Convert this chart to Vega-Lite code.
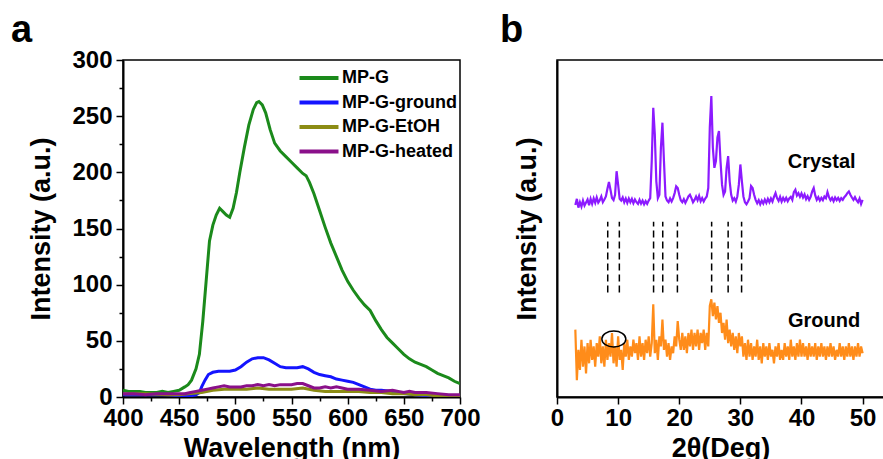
{
"$schema": "https://vega.github.io/schema/vega-lite/v6.json",
"padding": {"left": 10, "top": 10, "right": 0, "bottom": 0},
"background": "white",
"spacing": 18,
"resolve": {"scale": {"color": "independent"}, "legend": {"color": "independent"}},
"config": {
  "font": "Liberation Sans",
  "view": {"stroke": "black", "strokeWidth": 1.5},
  "axis": {"grid": false, "domainColor": "black", "domainWidth": 2, "tickColor": "black", "tickWidth": 1.5,
    "labelFont": "Liberation Sans", "labelFontWeight": "bold", "labelFontSize": 24, "labelColor": "black",
    "titleFont": "Liberation Sans", "titleFontWeight": "bold", "titleFontSize": 27, "titleColor": "black",
    "labelOverlap": false, "labelFlush": false},
  "title": {"font": "Liberation Sans", "fontWeight": "bold", "fontSize": 38, "color": "black", "anchor": "start", "frame": "group", "baseline": "alphabetic"}
},
"hconcat": [
{
  "width": 337, "height": 337,
  "title": {"text": "a", "dx": -112, "offset": -1.5},
  "data": {"values": [
{"s":"MP-G","w":400,"i":6},{"s":"MP-G","w":405,"i":5},{"s":"MP-G","w":410,"i":5},{"s":"MP-G","w":415,"i":5},{"s":"MP-G","w":420,"i":4},{"s":"MP-G","w":425,"i":4},{"s":"MP-G","w":430,"i":4},{"s":"MP-G","w":435,"i":5},{"s":"MP-G","w":440,"i":4},{"s":"MP-G","w":445,"i":5},{"s":"MP-G","w":450,"i":6},{"s":"MP-G","w":455,"i":9},{"s":"MP-G","w":458,"i":11},{"s":"MP-G","w":461,"i":15},{"s":"MP-G","w":465,"i":25},{"s":"MP-G","w":468,"i":38},{"s":"MP-G","w":471,"i":67},{"s":"MP-G","w":474,"i":103},{"s":"MP-G","w":477,"i":139},{"s":"MP-G","w":480,"i":153},{"s":"MP-G","w":483,"i":162},{"s":"MP-G","w":486,"i":168},{"s":"MP-G","w":489,"i":165},{"s":"MP-G","w":492,"i":162},{"s":"MP-G","w":495,"i":160},{"s":"MP-G","w":498,"i":168},{"s":"MP-G","w":501,"i":182},{"s":"MP-G","w":504,"i":200},{"s":"MP-G","w":508,"i":222},{"s":"MP-G","w":512,"i":242},{"s":"MP-G","w":516,"i":256},{"s":"MP-G","w":519,"i":262},{"s":"MP-G","w":521,"i":263},{"s":"MP-G","w":524,"i":260},{"s":"MP-G","w":527,"i":253},{"s":"MP-G","w":531,"i":238},{"s":"MP-G","w":535,"i":226},{"s":"MP-G","w":540,"i":219},{"s":"MP-G","w":545,"i":214},{"s":"MP-G","w":550,"i":209},{"s":"MP-G","w":555,"i":204},{"s":"MP-G","w":560,"i":199},{"s":"MP-G","w":563,"i":197},{"s":"MP-G","w":566,"i":191},{"s":"MP-G","w":570,"i":181},{"s":"MP-G","w":575,"i":166},{"s":"MP-G","w":580,"i":151},{"s":"MP-G","w":585,"i":137},{"s":"MP-G","w":590,"i":125},{"s":"MP-G","w":595,"i":113},{"s":"MP-G","w":600,"i":103},{"s":"MP-G","w":605,"i":95},{"s":"MP-G","w":610,"i":88},{"s":"MP-G","w":615,"i":82},{"s":"MP-G","w":620,"i":77},{"s":"MP-G","w":625,"i":68},{"s":"MP-G","w":630,"i":60},{"s":"MP-G","w":635,"i":53},{"s":"MP-G","w":640,"i":48},{"s":"MP-G","w":645,"i":43},{"s":"MP-G","w":650,"i":38},{"s":"MP-G","w":655,"i":34},{"s":"MP-G","w":660,"i":31},{"s":"MP-G","w":665,"i":29},{"s":"MP-G","w":670,"i":27},{"s":"MP-G","w":675,"i":24},{"s":"MP-G","w":680,"i":21},{"s":"MP-G","w":685,"i":19},{"s":"MP-G","w":690,"i":17},{"s":"MP-G","w":695,"i":14},{"s":"MP-G","w":700,"i":12},
{"s":"MP-G-ground","w":400,"i":2},{"s":"MP-G-ground","w":420,"i":2},{"s":"MP-G-ground","w":440,"i":2},{"s":"MP-G-ground","w":450,"i":1},{"s":"MP-G-ground","w":460,"i":1},{"s":"MP-G-ground","w":465,"i":2},{"s":"MP-G-ground","w":468,"i":4},{"s":"MP-G-ground","w":470,"i":9},{"s":"MP-G-ground","w":473,"i":15},{"s":"MP-G-ground","w":476,"i":20},{"s":"MP-G-ground","w":480,"i":22},{"s":"MP-G-ground","w":485,"i":23},{"s":"MP-G-ground","w":490,"i":23},{"s":"MP-G-ground","w":495,"i":23},{"s":"MP-G-ground","w":500,"i":24},{"s":"MP-G-ground","w":505,"i":27},{"s":"MP-G-ground","w":510,"i":31},{"s":"MP-G-ground","w":515,"i":34},{"s":"MP-G-ground","w":520,"i":35},{"s":"MP-G-ground","w":525,"i":35},{"s":"MP-G-ground","w":530,"i":33},{"s":"MP-G-ground","w":535,"i":30},{"s":"MP-G-ground","w":540,"i":27},{"s":"MP-G-ground","w":545,"i":26},{"s":"MP-G-ground","w":550,"i":26},{"s":"MP-G-ground","w":555,"i":26},{"s":"MP-G-ground","w":560,"i":27},{"s":"MP-G-ground","w":565,"i":25},{"s":"MP-G-ground","w":570,"i":22},{"s":"MP-G-ground","w":575,"i":20},{"s":"MP-G-ground","w":580,"i":19},{"s":"MP-G-ground","w":585,"i":18},{"s":"MP-G-ground","w":590,"i":16},{"s":"MP-G-ground","w":595,"i":15},{"s":"MP-G-ground","w":600,"i":14},{"s":"MP-G-ground","w":605,"i":13},{"s":"MP-G-ground","w":610,"i":11},{"s":"MP-G-ground","w":615,"i":9},{"s":"MP-G-ground","w":620,"i":7},{"s":"MP-G-ground","w":625,"i":6},{"s":"MP-G-ground","w":630,"i":6},{"s":"MP-G-ground","w":640,"i":5},{"s":"MP-G-ground","w":650,"i":3},{"s":"MP-G-ground","w":660,"i":2},{"s":"MP-G-ground","w":670,"i":1},{"s":"MP-G-ground","w":680,"i":0.5},{"s":"MP-G-ground","w":690,"i":0},{"s":"MP-G-ground","w":700,"i":0},
{"s":"MP-G-EtOH","w":400,"i":3},{"s":"MP-G-EtOH","w":420,"i":3},{"s":"MP-G-EtOH","w":440,"i":2},{"s":"MP-G-EtOH","w":450,"i":2},{"s":"MP-G-EtOH","w":460,"i":3},{"s":"MP-G-EtOH","w":470,"i":4},{"s":"MP-G-EtOH","w":480,"i":6},{"s":"MP-G-EtOH","w":490,"i":7},{"s":"MP-G-EtOH","w":500,"i":7},{"s":"MP-G-EtOH","w":510,"i":7},{"s":"MP-G-EtOH","w":520,"i":8},{"s":"MP-G-EtOH","w":530,"i":7},{"s":"MP-G-EtOH","w":540,"i":7},{"s":"MP-G-EtOH","w":550,"i":7},{"s":"MP-G-EtOH","w":560,"i":8},{"s":"MP-G-EtOH","w":570,"i":6},{"s":"MP-G-EtOH","w":580,"i":5},{"s":"MP-G-EtOH","w":590,"i":5},{"s":"MP-G-EtOH","w":600,"i":5},{"s":"MP-G-EtOH","w":610,"i":5},{"s":"MP-G-EtOH","w":620,"i":4},{"s":"MP-G-EtOH","w":630,"i":4},{"s":"MP-G-EtOH","w":640,"i":3},{"s":"MP-G-EtOH","w":650,"i":3},{"s":"MP-G-EtOH","w":660,"i":2},{"s":"MP-G-EtOH","w":670,"i":2},{"s":"MP-G-EtOH","w":680,"i":1},{"s":"MP-G-EtOH","w":690,"i":1},{"s":"MP-G-EtOH","w":700,"i":1},
{"s":"MP-G-heated","w":400,"i":3},{"s":"MP-G-heated","w":410,"i":3},{"s":"MP-G-heated","w":420,"i":2},{"s":"MP-G-heated","w":430,"i":3},{"s":"MP-G-heated","w":440,"i":3},{"s":"MP-G-heated","w":450,"i":3},{"s":"MP-G-heated","w":455,"i":3},{"s":"MP-G-heated","w":460,"i":4},{"s":"MP-G-heated","w":465,"i":5},{"s":"MP-G-heated","w":470,"i":6},{"s":"MP-G-heated","w":475,"i":7},{"s":"MP-G-heated","w":480,"i":8},{"s":"MP-G-heated","w":485,"i":9},{"s":"MP-G-heated","w":490,"i":10},{"s":"MP-G-heated","w":495,"i":9},{"s":"MP-G-heated","w":500,"i":9},{"s":"MP-G-heated","w":505,"i":9},{"s":"MP-G-heated","w":510,"i":10},{"s":"MP-G-heated","w":515,"i":10},{"s":"MP-G-heated","w":520,"i":11},{"s":"MP-G-heated","w":525,"i":10},{"s":"MP-G-heated","w":530,"i":11},{"s":"MP-G-heated","w":535,"i":10},{"s":"MP-G-heated","w":540,"i":11},{"s":"MP-G-heated","w":545,"i":11},{"s":"MP-G-heated","w":550,"i":11},{"s":"MP-G-heated","w":555,"i":12},{"s":"MP-G-heated","w":560,"i":12},{"s":"MP-G-heated","w":565,"i":10},{"s":"MP-G-heated","w":570,"i":8},{"s":"MP-G-heated","w":575,"i":8},{"s":"MP-G-heated","w":580,"i":9},{"s":"MP-G-heated","w":585,"i":8},{"s":"MP-G-heated","w":590,"i":9},{"s":"MP-G-heated","w":595,"i":8},{"s":"MP-G-heated","w":600,"i":7},{"s":"MP-G-heated","w":610,"i":7},{"s":"MP-G-heated","w":620,"i":6},{"s":"MP-G-heated","w":630,"i":5},{"s":"MP-G-heated","w":640,"i":6},{"s":"MP-G-heated","w":645,"i":5},{"s":"MP-G-heated","w":650,"i":4},{"s":"MP-G-heated","w":655,"i":5},{"s":"MP-G-heated","w":660,"i":4},{"s":"MP-G-heated","w":670,"i":4},{"s":"MP-G-heated","w":680,"i":3},{"s":"MP-G-heated","w":690,"i":2},{"s":"MP-G-heated","w":700,"i":2}
  ]},
  "mark": {"type": "line", "strokeWidth": 3, "clip": true},
  "encoding": {
    "x": {"field": "w", "type": "quantitative", "scale": {"domain": [400, 700], "nice": false},
      "axis": {"title": "Wavelength (nm)", "values": [400,425,450,475,500,525,550,575,600,625,650,675,700],
        "labelExpr": "datum.value % 50 === 0 ? datum.label : ''",
        "tickSize": {"condition": {"test": "datum.value % 50 === 0", "value": 7}, "value": 4},
        "labelPadding": 2, "titlePadding": 5}},
    "y": {"field": "i", "type": "quantitative", "scale": {"domain": [0, 300], "nice": false},
      "axis": {"title": "Intensity (a.u.)", "values": [0,25,50,75,100,125,150,175,200,225,250,275,300],
        "labelExpr": "datum.value % 50 === 0 ? datum.label : ''",
        "tickSize": {"condition": {"test": "datum.value % 50 === 0", "value": 7}, "value": 4},
        "labelPadding": 4, "titlePadding": 16}},
    "color": {"field": "s", "type": "nominal",
      "scale": {"domain": ["MP-G", "MP-G-ground", "MP-G-EtOH", "MP-G-heated"], "range": ["#1b8a1b", "#1414ff", "#8c8c14", "#8a108a"]},
      "legend": {"orient": "none", "legendX": 176, "legendY": 8, "title": null, "padding": 0,
        "symbolType": "M -2.5 0 L 2.5 0", "symbolSize": 243, "symbolStrokeWidth": 4, "symbolOffset": 10,
        "labelOffset": 13, "labelFont": "Liberation Sans", "labelFontWeight": "bold", "labelFontSize": 18,
        "labelColor": "black", "rowPadding": 5.5}}
  }
},
{
  "width": 327, "height": 337,
  "title": {"text": "b", "dx": -57, "offset": 10.5},
  "layer": [
    {
      "data": {"values": [
{"p":"Crystal","t":3.0,"v":57.0},{"p":"Crystal","t":3.25,"v":58.8},{"p":"Crystal","t":3.5,"v":56.2},{"p":"Crystal","t":3.75,"v":57.8},{"p":"Crystal","t":4.0,"v":56.5},{"p":"Crystal","t":4.25,"v":58.3},{"p":"Crystal","t":4.5,"v":56.8},{"p":"Crystal","t":4.75,"v":57.7},{"p":"Crystal","t":5.0,"v":58.6},{"p":"Crystal","t":5.25,"v":56.9},{"p":"Crystal","t":5.5,"v":58.8},{"p":"Crystal","t":5.75,"v":57.3},{"p":"Crystal","t":6.0,"v":58.9},{"p":"Crystal","t":6.25,"v":57.6},{"p":"Crystal","t":6.5,"v":59.2},{"p":"Crystal","t":6.75,"v":57.7},{"p":"Crystal","t":7.0,"v":58.4},{"p":"Crystal","t":7.25,"v":59.5},{"p":"Crystal","t":7.5,"v":57.8},{"p":"Crystal","t":7.75,"v":58.6},{"p":"Crystal","t":8.0,"v":59.5},{"p":"Crystal","t":8.25,"v":61.8},{"p":"Crystal","t":8.5,"v":63.8},{"p":"Crystal","t":8.75,"v":61.5},{"p":"Crystal","t":9.0,"v":59.0},{"p":"Crystal","t":9.25,"v":58.4},{"p":"Crystal","t":9.5,"v":60.0},{"p":"Crystal","t":9.75,"v":67.0},{"p":"Crystal","t":10.0,"v":63.0},{"p":"Crystal","t":10.25,"v":58.8},{"p":"Crystal","t":10.5,"v":58.3},{"p":"Crystal","t":10.75,"v":59.2},{"p":"Crystal","t":11.0,"v":57.8},{"p":"Crystal","t":11.25,"v":58.9},{"p":"Crystal","t":11.5,"v":57.6},{"p":"Crystal","t":11.75,"v":58.9},{"p":"Crystal","t":12.0,"v":57.8},{"p":"Crystal","t":12.25,"v":58.8},{"p":"Crystal","t":12.5,"v":57.5},{"p":"Crystal","t":12.75,"v":58.6},{"p":"Crystal","t":13.0,"v":57.8},{"p":"Crystal","t":13.25,"v":57.3},{"p":"Crystal","t":13.5,"v":58.5},{"p":"Crystal","t":13.75,"v":57.4},{"p":"Crystal","t":14.0,"v":58.3},{"p":"Crystal","t":14.25,"v":57.2},{"p":"Crystal","t":14.5,"v":58.1},{"p":"Crystal","t":14.75,"v":57.3},{"p":"Crystal","t":15.0,"v":58.3},{"p":"Crystal","t":15.25,"v":59.0},{"p":"Crystal","t":15.5,"v":70.0},{"p":"Crystal","t":15.75,"v":85.8},{"p":"Crystal","t":16.0,"v":78.0},{"p":"Crystal","t":16.25,"v":64.0},{"p":"Crystal","t":16.5,"v":59.0},{"p":"Crystal","t":16.75,"v":60.0},{"p":"Crystal","t":17.0,"v":74.0},{"p":"Crystal","t":17.25,"v":81.4},{"p":"Crystal","t":17.5,"v":70.0},{"p":"Crystal","t":17.75,"v":59.5},{"p":"Crystal","t":18.0,"v":58.3},{"p":"Crystal","t":18.25,"v":57.8},{"p":"Crystal","t":18.5,"v":58.9},{"p":"Crystal","t":18.75,"v":58.0},{"p":"Crystal","t":19.0,"v":59.0},{"p":"Crystal","t":19.25,"v":60.5},{"p":"Crystal","t":19.5,"v":62.5},{"p":"Crystal","t":19.75,"v":62.0},{"p":"Crystal","t":20.0,"v":60.0},{"p":"Crystal","t":20.25,"v":58.4},{"p":"Crystal","t":20.5,"v":57.8},{"p":"Crystal","t":20.75,"v":58.7},{"p":"Crystal","t":21.0,"v":57.6},{"p":"Crystal","t":21.25,"v":58.5},{"p":"Crystal","t":21.5,"v":59.5},{"p":"Crystal","t":21.75,"v":60.0},{"p":"Crystal","t":22.0,"v":59.0},{"p":"Crystal","t":22.25,"v":57.8},{"p":"Crystal","t":22.5,"v":58.5},{"p":"Crystal","t":22.75,"v":59.5},{"p":"Crystal","t":23.0,"v":58.4},{"p":"Crystal","t":23.25,"v":59.7},{"p":"Crystal","t":23.5,"v":58.1},{"p":"Crystal","t":23.75,"v":59.0},{"p":"Crystal","t":24.0,"v":58.0},{"p":"Crystal","t":24.25,"v":58.9},{"p":"Crystal","t":24.5,"v":59.5},{"p":"Crystal","t":24.75,"v":62.0},{"p":"Crystal","t":25.0,"v":80.0},{"p":"Crystal","t":25.25,"v":89.3},{"p":"Crystal","t":25.5,"v":74.0},{"p":"Crystal","t":25.75,"v":68.0},{"p":"Crystal","t":26.0,"v":70.0},{"p":"Crystal","t":26.25,"v":77.0},{"p":"Crystal","t":26.5,"v":78.9},{"p":"Crystal","t":26.75,"v":70.0},{"p":"Crystal","t":27.0,"v":63.0},{"p":"Crystal","t":27.25,"v":60.0},{"p":"Crystal","t":27.5,"v":61.0},{"p":"Crystal","t":27.75,"v":68.0},{"p":"Crystal","t":28.0,"v":71.5},{"p":"Crystal","t":28.25,"v":64.0},{"p":"Crystal","t":28.5,"v":60.0},{"p":"Crystal","t":28.75,"v":58.3},{"p":"Crystal","t":29.0,"v":59.0},{"p":"Crystal","t":29.25,"v":58.0},{"p":"Crystal","t":29.5,"v":59.5},{"p":"Crystal","t":29.75,"v":63.0},{"p":"Crystal","t":30.0,"v":69.0},{"p":"Crystal","t":30.25,"v":64.0},{"p":"Crystal","t":30.5,"v":59.5},{"p":"Crystal","t":30.75,"v":57.8},{"p":"Crystal","t":31.0,"v":57.2},{"p":"Crystal","t":31.25,"v":58.0},{"p":"Crystal","t":31.5,"v":59.0},{"p":"Crystal","t":31.75,"v":62.6},{"p":"Crystal","t":32.0,"v":62.0},{"p":"Crystal","t":32.25,"v":60.0},{"p":"Crystal","t":32.5,"v":58.5},{"p":"Crystal","t":32.75,"v":57.5},{"p":"Crystal","t":33.0,"v":58.4},{"p":"Crystal","t":33.25,"v":57.2},{"p":"Crystal","t":33.5,"v":58.3},{"p":"Crystal","t":33.75,"v":57.4},{"p":"Crystal","t":34.0,"v":58.6},{"p":"Crystal","t":34.25,"v":57.6},{"p":"Crystal","t":34.5,"v":58.8},{"p":"Crystal","t":34.75,"v":57.8},{"p":"Crystal","t":35.0,"v":58.9},{"p":"Crystal","t":35.25,"v":58.0},{"p":"Crystal","t":35.5,"v":59.4},{"p":"Crystal","t":35.75,"v":60.5},{"p":"Crystal","t":36.0,"v":59.0},{"p":"Crystal","t":36.25,"v":58.2},{"p":"Crystal","t":36.5,"v":59.4},{"p":"Crystal","t":36.75,"v":58.0},{"p":"Crystal","t":37.0,"v":59.1},{"p":"Crystal","t":37.25,"v":58.2},{"p":"Crystal","t":37.5,"v":59.1},{"p":"Crystal","t":37.75,"v":58.1},{"p":"Crystal","t":38.0,"v":58.9},{"p":"Crystal","t":38.25,"v":59.4},{"p":"Crystal","t":38.5,"v":58.5},{"p":"Crystal","t":38.75,"v":60.8},{"p":"Crystal","t":39.0,"v":61.5},{"p":"Crystal","t":39.25,"v":59.8},{"p":"Crystal","t":39.5,"v":60.5},{"p":"Crystal","t":39.75,"v":59.4},{"p":"Crystal","t":40.0,"v":60.4},{"p":"Crystal","t":40.25,"v":59.2},{"p":"Crystal","t":40.5,"v":60.1},{"p":"Crystal","t":40.75,"v":58.7},{"p":"Crystal","t":41.0,"v":59.6},{"p":"Crystal","t":41.25,"v":58.5},{"p":"Crystal","t":41.5,"v":59.4},{"p":"Crystal","t":41.75,"v":61.0},{"p":"Crystal","t":42.0,"v":62.0},{"p":"Crystal","t":42.25,"v":59.8},{"p":"Crystal","t":42.5,"v":58.5},{"p":"Crystal","t":42.75,"v":59.3},{"p":"Crystal","t":43.0,"v":58.3},{"p":"Crystal","t":43.25,"v":59.1},{"p":"Crystal","t":43.5,"v":58.4},{"p":"Crystal","t":43.75,"v":59.5},{"p":"Crystal","t":44.0,"v":59.0},{"p":"Crystal","t":44.25,"v":60.8},{"p":"Crystal","t":44.5,"v":59.3},{"p":"Crystal","t":44.75,"v":58.4},{"p":"Crystal","t":45.0,"v":59.1},{"p":"Crystal","t":45.25,"v":58.1},{"p":"Crystal","t":45.5,"v":59.2},{"p":"Crystal","t":45.75,"v":58.4},{"p":"Crystal","t":46.0,"v":59.1},{"p":"Crystal","t":46.25,"v":58.2},{"p":"Crystal","t":46.5,"v":59.0},{"p":"Crystal","t":46.75,"v":58.5},{"p":"Crystal","t":47.0,"v":59.3},{"p":"Crystal","t":47.25,"v":59.8},{"p":"Crystal","t":47.5,"v":60.5},{"p":"Crystal","t":47.75,"v":61.0},{"p":"Crystal","t":48.0,"v":60.0},{"p":"Crystal","t":48.25,"v":59.2},{"p":"Crystal","t":48.5,"v":58.5},{"p":"Crystal","t":48.75,"v":59.3},{"p":"Crystal","t":49.0,"v":58.4},{"p":"Crystal","t":49.25,"v":57.8},{"p":"Crystal","t":49.5,"v":58.9},{"p":"Crystal","t":49.75,"v":57.3},{"p":"Crystal","t":50.0,"v":58.5},
{"p":"Ground","t":3.0,"v":20},{"p":"Ground","t":3.25,"v":5},{"p":"Ground","t":3.5,"v":14},{"p":"Ground","t":3.75,"v":8},{"p":"Ground","t":4.0,"v":17},{"p":"Ground","t":4.25,"v":9},{"p":"Ground","t":4.5,"v":15},{"p":"Ground","t":4.75,"v":7},{"p":"Ground","t":5.0,"v":16},{"p":"Ground","t":5.25,"v":10},{"p":"Ground","t":5.5,"v":17},{"p":"Ground","t":5.75,"v":11},{"p":"Ground","t":6.0,"v":15},{"p":"Ground","t":6.25,"v":9},{"p":"Ground","t":6.5,"v":16},{"p":"Ground","t":6.75,"v":12},{"p":"Ground","t":7.0,"v":18},{"p":"Ground","t":7.25,"v":10},{"p":"Ground","t":7.5,"v":15},{"p":"Ground","t":7.75,"v":9},{"p":"Ground","t":8.0,"v":17},{"p":"Ground","t":8.25,"v":11},{"p":"Ground","t":8.5,"v":16},{"p":"Ground","t":8.75,"v":12},{"p":"Ground","t":9.0,"v":19},{"p":"Ground","t":9.25,"v":10},{"p":"Ground","t":9.5,"v":15},{"p":"Ground","t":9.75,"v":9},{"p":"Ground","t":10.0,"v":18},{"p":"Ground","t":10.25,"v":11},{"p":"Ground","t":10.5,"v":14},{"p":"Ground","t":10.75,"v":8},{"p":"Ground","t":11.0,"v":16},{"p":"Ground","t":11.25,"v":12},{"p":"Ground","t":11.5,"v":17},{"p":"Ground","t":11.75,"v":11},{"p":"Ground","t":12.0,"v":15},{"p":"Ground","t":12.25,"v":12},{"p":"Ground","t":12.5,"v":17},{"p":"Ground","t":12.75,"v":13},{"p":"Ground","t":13.0,"v":16},{"p":"Ground","t":13.25,"v":11},{"p":"Ground","t":13.5,"v":18},{"p":"Ground","t":13.75,"v":12},{"p":"Ground","t":14.0,"v":16},{"p":"Ground","t":14.25,"v":11},{"p":"Ground","t":14.5,"v":17},{"p":"Ground","t":14.75,"v":13},{"p":"Ground","t":15.0,"v":18},{"p":"Ground","t":15.25,"v":12},{"p":"Ground","t":15.5,"v":16},{"p":"Ground","t":15.75,"v":27.5},{"p":"Ground","t":16.0,"v":13},{"p":"Ground","t":16.25,"v":17},{"p":"Ground","t":16.5,"v":11},{"p":"Ground","t":16.75,"v":18},{"p":"Ground","t":17.0,"v":15},{"p":"Ground","t":17.25,"v":23},{"p":"Ground","t":17.5,"v":14},{"p":"Ground","t":17.75,"v":17},{"p":"Ground","t":18.0,"v":12},{"p":"Ground","t":18.25,"v":16},{"p":"Ground","t":18.5,"v":11},{"p":"Ground","t":18.75,"v":15},{"p":"Ground","t":19.0,"v":13},{"p":"Ground","t":19.25,"v":18},{"p":"Ground","t":19.5,"v":15},{"p":"Ground","t":19.75,"v":22.5},{"p":"Ground","t":20.0,"v":17},{"p":"Ground","t":20.25,"v":14},{"p":"Ground","t":20.5,"v":19},{"p":"Ground","t":20.75,"v":14},{"p":"Ground","t":21.0,"v":18},{"p":"Ground","t":21.25,"v":13},{"p":"Ground","t":21.5,"v":19},{"p":"Ground","t":21.75,"v":15},{"p":"Ground","t":22.0,"v":20},{"p":"Ground","t":22.25,"v":14},{"p":"Ground","t":22.5,"v":19},{"p":"Ground","t":22.75,"v":15},{"p":"Ground","t":23.0,"v":20},{"p":"Ground","t":23.25,"v":14},{"p":"Ground","t":23.5,"v":19},{"p":"Ground","t":23.75,"v":16},{"p":"Ground","t":24.0,"v":20},{"p":"Ground","t":24.25,"v":14},{"p":"Ground","t":24.5,"v":19},{"p":"Ground","t":24.75,"v":15},{"p":"Ground","t":25.0,"v":27},{"p":"Ground","t":25.25,"v":29},{"p":"Ground","t":25.5,"v":24},{"p":"Ground","t":25.75,"v":28},{"p":"Ground","t":26.0,"v":23},{"p":"Ground","t":26.25,"v":27},{"p":"Ground","t":26.5,"v":22},{"p":"Ground","t":26.75,"v":25},{"p":"Ground","t":27.0,"v":19},{"p":"Ground","t":27.25,"v":22},{"p":"Ground","t":27.5,"v":17},{"p":"Ground","t":27.75,"v":23},{"p":"Ground","t":28.0,"v":16},{"p":"Ground","t":28.25,"v":20},{"p":"Ground","t":28.5,"v":15},{"p":"Ground","t":28.75,"v":19},{"p":"Ground","t":29.0,"v":14},{"p":"Ground","t":29.25,"v":18},{"p":"Ground","t":29.5,"v":13},{"p":"Ground","t":29.75,"v":19},{"p":"Ground","t":30.0,"v":15},{"p":"Ground","t":30.25,"v":18},{"p":"Ground","t":30.5,"v":12},{"p":"Ground","t":30.75,"v":16},{"p":"Ground","t":31.0,"v":11},{"p":"Ground","t":31.25,"v":17},{"p":"Ground","t":31.5,"v":12},{"p":"Ground","t":31.75,"v":16},{"p":"Ground","t":32.0,"v":11},{"p":"Ground","t":32.25,"v":15},{"p":"Ground","t":32.5,"v":12},{"p":"Ground","t":32.75,"v":17},{"p":"Ground","t":33.0,"v":11},{"p":"Ground","t":33.25,"v":15},{"p":"Ground","t":33.5,"v":10},{"p":"Ground","t":33.75,"v":16},{"p":"Ground","t":34.0,"v":12},{"p":"Ground","t":34.25,"v":15},{"p":"Ground","t":34.5,"v":11},{"p":"Ground","t":34.75,"v":16},{"p":"Ground","t":35.0,"v":12},{"p":"Ground","t":35.25,"v":14},{"p":"Ground","t":35.5,"v":10},{"p":"Ground","t":35.75,"v":15},{"p":"Ground","t":36.0,"v":12},{"p":"Ground","t":36.25,"v":16},{"p":"Ground","t":36.5,"v":11},{"p":"Ground","t":36.75,"v":14},{"p":"Ground","t":37.0,"v":11},{"p":"Ground","t":37.25,"v":16},{"p":"Ground","t":37.5,"v":12},{"p":"Ground","t":37.75,"v":15},{"p":"Ground","t":38.0,"v":11},{"p":"Ground","t":38.25,"v":17},{"p":"Ground","t":38.5,"v":12},{"p":"Ground","t":38.75,"v":15},{"p":"Ground","t":39.0,"v":11},{"p":"Ground","t":39.25,"v":16},{"p":"Ground","t":39.5,"v":12},{"p":"Ground","t":39.75,"v":17},{"p":"Ground","t":40.0,"v":12},{"p":"Ground","t":40.25,"v":16},{"p":"Ground","t":40.5,"v":12},{"p":"Ground","t":40.75,"v":15},{"p":"Ground","t":41.0,"v":11},{"p":"Ground","t":41.25,"v":16},{"p":"Ground","t":41.5,"v":12},{"p":"Ground","t":41.75,"v":15},{"p":"Ground","t":42.0,"v":12},{"p":"Ground","t":42.25,"v":16},{"p":"Ground","t":42.5,"v":11},{"p":"Ground","t":42.75,"v":15},{"p":"Ground","t":43.0,"v":12},{"p":"Ground","t":43.25,"v":16},{"p":"Ground","t":43.5,"v":12},{"p":"Ground","t":43.75,"v":15},{"p":"Ground","t":44.0,"v":11},{"p":"Ground","t":44.25,"v":15},{"p":"Ground","t":44.5,"v":12},{"p":"Ground","t":44.75,"v":16},{"p":"Ground","t":45.0,"v":12},{"p":"Ground","t":45.25,"v":15},{"p":"Ground","t":45.5,"v":11},{"p":"Ground","t":45.75,"v":14},{"p":"Ground","t":46.0,"v":12},{"p":"Ground","t":46.25,"v":16},{"p":"Ground","t":46.5,"v":12},{"p":"Ground","t":46.75,"v":15},{"p":"Ground","t":47.0,"v":11},{"p":"Ground","t":47.25,"v":15},{"p":"Ground","t":47.5,"v":12},{"p":"Ground","t":47.75,"v":16},{"p":"Ground","t":48.0,"v":12},{"p":"Ground","t":48.25,"v":15},{"p":"Ground","t":48.5,"v":11},{"p":"Ground","t":48.75,"v":15},{"p":"Ground","t":49.0,"v":12},{"p":"Ground","t":49.25,"v":16},{"p":"Ground","t":49.5,"v":12},{"p":"Ground","t":49.75,"v":15},{"p":"Ground","t":50.0,"v":13}
      ]},
      "mark": {"type": "line", "strokeWidth": 2.2},
      "encoding": {
        "x": {"field": "t", "type": "quantitative", "scale": {"domain": [0, 53.5], "nice": false},
          "axis": {"title": "2θ(Deg)", "values": [0,5,10,15,20,25,30,35,40,45,50],
            "labelExpr": "datum.value % 10 === 0 ? datum.label : ''",
            "tickSize": {"condition": {"test": "datum.value % 10 === 0", "value": 7}, "value": 4},
            "labelPadding": 2, "titlePadding": 5}},
        "y": {"field": "v", "type": "quantitative", "scale": {"domain": [0, 100], "nice": false},
          "axis": {"title": "Intensity (a.u.)", "ticks": false, "labels": false, "titlePadding": 16}},
        "color": {"field": "p", "type": "nominal", "scale": {"domain": ["Crystal", "Ground"], "range": ["#8c1aff", "#ff8c1a"]}, "legend": null}
      }
    },
    {
      "data": {"values": [{"t": 8.3}, {"t": 10.2}, {"t": 15.8}, {"t": 17.3}, {"t": 19.7}, {"t": 25.3}, {"t": 28.0}, {"t": 30.2}]},
      "mark": {"type": "rule", "strokeDash": [7, 4], "strokeWidth": 1.5, "color": "black"},
      "encoding": {"x": {"field": "t", "type": "quantitative"}, "y": {"datum": 31}, "y2": {"datum": 52}}
    },
    {
      "data": {"values": [{"t": 43.3, "v": 69.7, "label": "Crystal"}, {"t": 43.7, "v": 22.6, "label": "Ground"}]},
      "mark": {"type": "text", "font": "Liberation Sans", "fontWeight": "bold", "fontSize": 20, "color": "black", "align": "center", "baseline": "middle"},
      "encoding": {"x": {"field": "t", "type": "quantitative"}, "y": {"field": "v", "type": "quantitative"}, "text": {"field": "label"}}
    },
    {
      "data": {"values": [{"t": 9.3, "v": 17.2}]},
      "mark": {"type": "point", "shape": "M -1 0 A 1 0.67 0 1 0 1 0 A 1 0.67 0 1 0 -1 0 Z", "size": 576, "filled": false, "stroke": "black", "strokeWidth": 1.5, "opacity": 1},
      "encoding": {"x": {"field": "t", "type": "quantitative"}, "y": {"field": "v", "type": "quantitative"}}
    }
  ]
}
]
}
